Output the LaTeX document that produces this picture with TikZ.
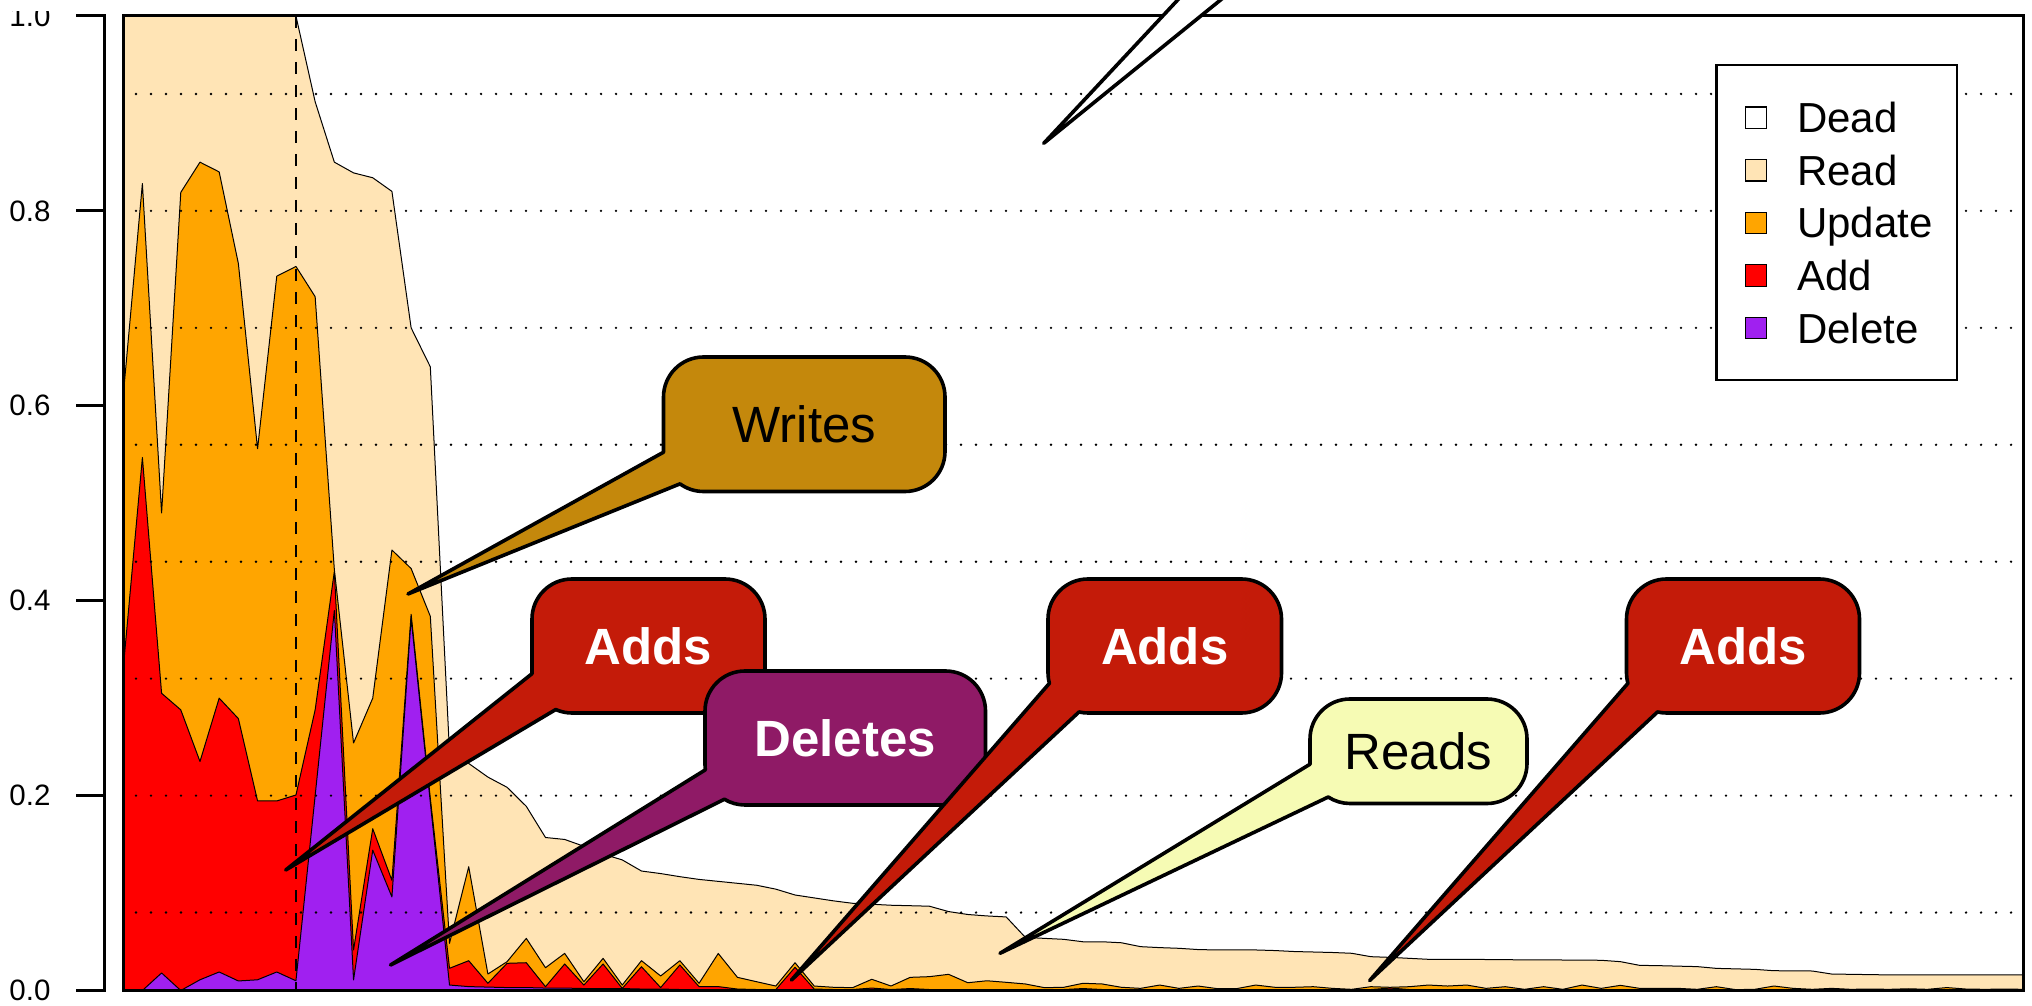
\documentclass[tikz,border=0pt]{standalone}
\usepackage{fontspec}
\setmainfont{Liberation Sans}
\definecolor{readc}{HTML}{FFE4B5}
\definecolor{updc}{HTML}{FFA500}
\definecolor{addc}{HTML}{FF0000}
\definecolor{delc}{HTML}{A020F0}
\definecolor{writesc}{HTML}{C4880C}
\definecolor{addsc}{HTML}{C41B09}
\definecolor{deletesc}{HTML}{8F1A66}
\definecolor{readsc}{HTML}{F6FBB4}
\tikzset{
  databorder/.style={draw=black, line width=1pt, line join=round},
  gridline/.style={line width=2.6pt, dash pattern=on 0pt off 15pt, line cap=round},
  vdashline/.style={line width=2.8pt, dash pattern=on 12pt off 11pt},
  framebox/.style={line width=3pt},
  axisline/.style={line width=3pt, line cap=rect},
  ylab/.style={font=\fontsize{29.5}{32}\selectfont, inner sep=0pt, anchor=east},
  bubble/.style={draw=black, line width=3.6pt, line join=round},
  bubbletext/.style={font=\fontsize{51}{60}\selectfont, inner sep=0pt, anchor=center},
  legsq/.style={draw=black, line width=1.2pt, minimum size=21.4pt, inner sep=0pt},
  legtext/.style={font=\fontsize{42}{48}\selectfont, inner sep=0pt, anchor=base west},
}
% stacked area: colour, 100 cumulative values
\newcommand{\stackarea}[2]{%
  \filldraw[databorder, fill=#1] (0,0) \foreach \v [count=\i from 0] in {#2} { -- (\i,\v) } -- (99,0) -- cycle;}
% callout: L, T, R, B (image coords, y down), phi1, phi2, tip coordinate, fill
\newcommand{\bubbleshape}[8]{%
  \filldraw[bubble, fill=#8]
    ([shift={(#5:40pt)}] #1+40, 1005-#4+40)
    arc[start angle=#5, end angle=180, radius=40pt]
    -- (#1, 1005-#2-40)
    arc[start angle=180, end angle=90, radius=40pt]
    -- (#3-40, 1005-#2)
    arc[start angle=90, end angle=0, radius=40pt]
    -- (#3, 1005-#4+40)
    arc[start angle=0, end angle=-90, radius=40pt]
    -- (#1+40, 1005-#4)
    arc[start angle=270, end angle=#6, radius=40pt]
    -- (#7) -- cycle;}
\begin{document}
\begin{tikzpicture}[x=1pt,y=1pt]
\useasboundingbox (0,0) rectangle (2032,1005);
\fill[white] (0,0) rectangle (2032,1005);

% ---- stacked areas ----
\begin{scope}[shift={(123.2pt,14.5pt)}, x=19.195pt, y=974.5pt]
\stackarea{readc}{1,1,1,1,1,1,1,1,1,1,
0.912,0.850,0.839,0.834,0.820,0.680,0.640,0.245,0.233,0.219,
0.2085,0.189,0.157,0.155,0.148,0.140,0.134,0.1226,0.120,0.1168,
0.114,0.112,0.110,0.108,0.104,0.098,0.095,0.092,0.0895,0.0885,
0.0875,0.087,0.0865,0.081,0.078,0.0765,0.0755,0.0545,0.0535,0.0525,
0.050,0.050,0.049,0.045,0.044,0.0433,0.042,0.0416,0.0416,0.0416,
0.041,0.040,0.0395,0.039,0.0382,0.0347,0.034,0.033,0.032,0.032,
0.032,0.0318,0.0316,0.0315,0.0314,0.0313,0.0312,0.031,0.0296,0.0258,
0.0255,0.025,0.0245,0.0227,0.0222,0.0217,0.0203,0.0202,0.020,0.0169,
0.0166,0.0163,0.016,0.016,0.016,0.016,0.016,0.016,0.016,0.016}
\stackarea{updc}{0.61,0.828,0.49,0.819,0.85,0.840,0.746,0.556,0.733,0.743,
0.712,0.432,0.254,0.300,0.452,0.433,0.384,0.0484,0.127,0.0169,
0.0296,0.0535,0.0234,0.0381,0.009,0.033,0.0056,0.0306,0.0149,0.0306,
0.0074,0.038,0.0135,0.009,0.0046,0.0285,0.0046,0.0033,0.0029,0.0115,
0.0046,0.0135,0.0142,0.0166,0.008,0.010,0.0084,0.0067,0.0029,0.0033,
0.0074,0.0067,0.0033,0.0022,0.0056,0.0022,0.0046,0.0019,0.0019,0.0056,
0.0033,0.0033,0.0039,0.0022,0.0012,0.0039,0.0033,0.0039,0.0056,0.0046,
0.0056,0.0022,0.0039,0.0012,0.0039,0.0012,0.0056,0.0022,0.0053,0.0022,
0.0022,0.0022,0.0012,0.0039,0.0009,0.0012,0.0046,0.0022,0.0012,0.0022,
0.0012,0.0015,0.0012,0.0018,0.0012,0.003,0.0015,0.0012,0.0015,0.0012}
\stackarea{addc}{0.33,0.547,0.305,0.288,0.235,0.300,0.279,0.1945,0.1945,0.2006,
0.288,0.430,0.0416,0.166,0.113,0.386,0.197,0.0228,0.0306,0.0074,
0.0279,0.0285,0.0039,0.0272,0.0056,0.0272,0.0022,0.0244,0.003,0.0262,
0.004,0.004,0.0015,0.001,0.001,0.0238,0.0015,0.001,0.001,0.0025,
0.001,0.002,0.001,0.001,0.001,0.001,0.001,0.001,0.001,0.001,
0.002,0.001,0.001,0.001,0.001,0.001,0.001,0.001,0.001,0.001,
0.001,0.001,0.001,0.001,0.001,0.001,0.0025,0.001,0.001,0.001,
0.0008,0.0008,0.0008,0.0008,0.0008,0.0008,0.0008,0.0008,0.0008,0.0008,
0.0008,0.0008,0.0008,0.0008,0.0008,0.0008,0.0008,0.0008,0.0008,0.0008,
0.0008,0.0008,0.0008,0.0008,0.0008,0.0008,0.0008,0.0008,0.0008,0.0008}
\stackarea{delc}{0,0,0.018,0,0.011,0.019,0.0098,0.011,0.019,0.010,
0.200,0.390,0.0108,0.144,0.096,0.382,0.193,0.0056,0.004,0.0035,
0.003,0.003,0.0025,0.0025,0.002,0.002,0.002,0.0015,0.0015,0.001,
0.001,0,0,0,0,0,0,0,0,0,
0,0,0,0,0,0,0,0,0,0,
0,0,0,0,0,0,0,0,0,0,
0,0,0,0,0,0,0,0,0,0,
0,0,0,0,0,0,0,0,0,0,
0,0,0,0,0,0,0,0,0,0,
0,0,0,0,0,0,0,0,0,0}
\end{scope}

% ---- grid, marker line, frame ----
\foreach \g in {0.08,0.20,0.32,0.44,0.56,0.68,0.80,0.92}
  \draw[gridline] (136,14.5+974.5*\g) -- (2011.5,14.5+974.5*\g);
\draw[vdashline] (295.96,989) -- (295.96,14.5);
\draw[framebox] (123.2,14.5) rectangle (2023.5,989);

% ---- y axis ----
\draw[axisline] (104,14.5) -- (104,989);
\foreach \t/\l in {0/0.0,0.2/0.2,0.4/0.4,0.6/0.6,0.8/0.8}{
  \draw[axisline] (77.3,14.5+974.5*\t) -- (104,14.5+974.5*\t);
  \node[ylab] (ylab\l) at (50.7,14.5+974.5*\t) {\l};
}
\draw[axisline] (77.3,989) -- (104,989);
\begin{scope}
  \clip (0,0) rectangle (115,993.3);
  \node[ylab] (ylabtop) at (50.7,989) {1.0};
\end{scope}

% ---- legend ----
\draw[fill=white, line width=2.2pt] (1716.4,940) rectangle (1957,625);
\foreach \n/\c [count=\k from 0] in {Dead/white,Read/readc,Update/updc,Add/addc,Delete/delc}{
  \node[legsq, fill=\c] (sq\k) at (1756.1,1005-117.8-52.6*\k) {};
  \node[legtext] (lt\k) at (1797,1005-117.8-52.6*\k-15) {\n};
}

% ---- callouts ----
\coordinate (tipW)  at (408,1005-594);
\coordinate (tipA1) at (285.7,1005-870);
\coordinate (tipD)  at (390.5,1005-965);
\coordinate (tipA2) at (791.5,1005-980);
\coordinate (tipR)  at (1000,1005-953.3);
\coordinate (tipA3) at (1369.7,1005-980.5);
\coordinate (tipTop) at (1043.75,1005-143.3);

\bubbleshape{663.5}{357}{945}{491.5}{181}{234}{tipW}{writesc}
\node[bubbletext] (writes) at (804.25,1005-424.25) {Writes};

\bubbleshape{532}{579}{765}{713}{181}{246}{tipA1}{addsc}
\node[bubbletext, text=white, font=\fontsize{51}{60}\selectfont\bfseries] (adds1) at (648.5,1005-646) {Adds};

\bubbleshape{705}{671}{985.5}{805}{187}{239}{tipD}{deletesc}
\node[bubbletext, text=white, font=\fontsize{51}{60}\selectfont\bfseries] (deletes) at (845.25,1005-738) {Deletes};

\bubbleshape{1048}{579}{1281.5}{713}{195}{257}{tipA2}{addsc}
\node[bubbletext, text=white, font=\fontsize{51}{60}\selectfont\bfseries] (adds2) at (1164.75,1005-646) {Adds};

\bubbleshape{1310}{699}{1527}{803.5}{181}{237}{tipR}{readsc}
\node[bubbletext] (reads) at (1418.5,1005-751.25) {Reads};

\bubbleshape{1626.5}{579}{1859.5}{713}{195}{257}{tipA3}{addsc}
\node[bubbletext, text=white, font=\fontsize{51}{60}\selectfont\bfseries] (adds3) at (1743,1005-646) {Adds};

% pointer of a callout lying above the picture
\filldraw[bubble, fill=white] (1205.7,1035) -- (tipTop) -- (1257.5,1035) -- cycle;
\end{tikzpicture}
\end{document}
